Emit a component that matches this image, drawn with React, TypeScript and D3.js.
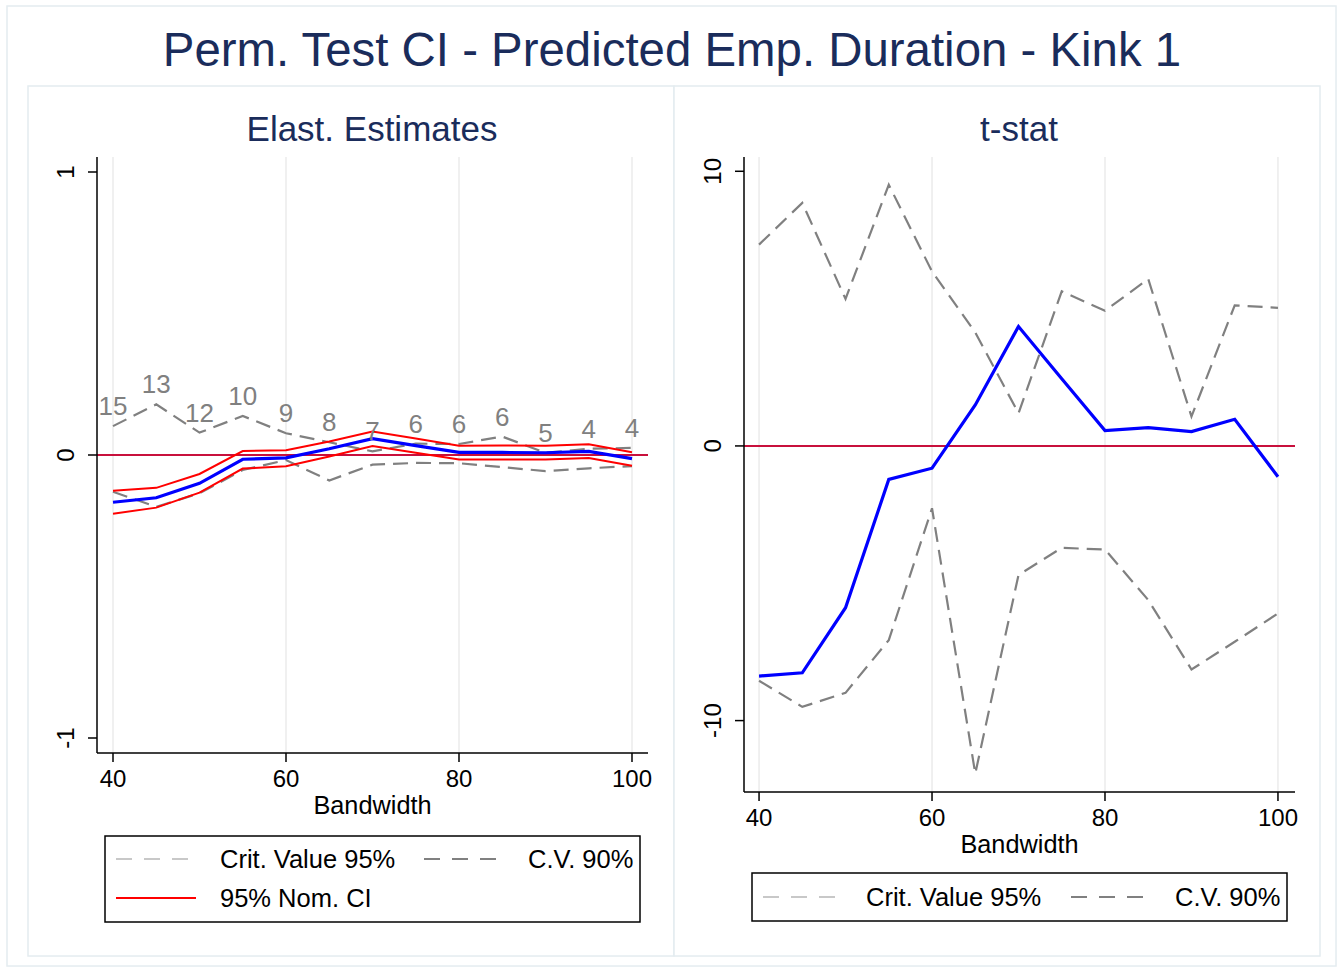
import React from "react";
import * as d3 from "d3";

const bandwidth = [40, 45, 50, 55, 60, 65, 70, 75, 80, 85, 90, 95, 100];
const obsLabels = ["15", "13", "12", "10", "9", "8", "7", "6", "6", "6", "5", "4", "4"];

const elastEst = [-0.167, -0.151, -0.1, -0.015, -0.01, 0.022, 0.058, 0.033, 0.009, 0.009, 0.008, 0.013, -0.013];
const ciUpper = [-0.126, -0.116, -0.067, 0.014, 0.017, 0.048, 0.083, 0.058, 0.033, 0.034, 0.033, 0.038, 0.01];
const ciLower = [-0.208, -0.186, -0.133, -0.048, -0.04, -0.005, 0.032, 0.008, -0.016, -0.016, -0.016, -0.011, -0.038];
const cv90UpperElast = [0.102, 0.179, 0.079, 0.138, 0.077, 0.045, 0.013, 0.04, 0.039, 0.065, 0.008, 0.022, 0.025];
const cv90LowerElast = [-0.13, -0.183, -0.135, -0.053, -0.018, -0.09, -0.034, -0.028, -0.029, -0.043, -0.057, -0.047, -0.039];

const tstat = [-8.38, -8.26, -5.89, -1.22, -0.81, 1.49, 4.35, 2.45, 0.56, 0.67, 0.52, 0.97, -1.12];
const cv90UpperT = [7.33, 8.85, 5.35, 9.51, 6.35, 4.13, 1.19, 5.63, 4.92, 6.08, 1.07, 5.12, 5.03];
const cv90LowerT = [-8.55, -9.5, -8.99, -7.07, -2.27, -11.93, -4.7, -3.71, -3.77, -5.61, -8.14, -7.13, -6.1];

const xTicks = [40, 60, 80, 100];
const yTicksElast = [-1, 0, 1];
const yTicksT = [-10, 0, 10];

const FONT = "'Liberation Sans', Arial, Helvetica, sans-serif";
const NAVY = "#1a2c5b";
const GRAY = "#808080";
const LIGHTGRAY = "#c8c8c8";
const ZERO = "#c8103c";
const GRID = "#ebebeb";
const FRAME = "#e4ecf0";

type PanelProps = {
  x0: number; x1: number; y0: number; y1: number;
  xDomain: [number, number]; yDomain: [number, number];
  yTicks: number[]; yFmt: (v: number) => string;
  children: (xs: d3.ScaleLinear<number, number>, ys: d3.ScaleLinear<number, number>) => React.ReactNode;
  xTitleY: number;
};

function Panel({ x0, x1, y0, y1, xDomain, yDomain, yTicks, yFmt, children, xTitleY }: PanelProps) {
  const xs = d3.scaleLinear().domain(xDomain).range([x0, x1]);
  const ys = d3.scaleLinear().domain(yDomain).range([y1, y0]);
  return (
    <g>
      {xTicks.map((t) => (
        <line key={"g" + t} x1={xs(t)} x2={xs(t)} y1={y0} y2={y1} stroke={GRID} strokeWidth={1.5} />
      ))}
      <line x1={x0} x2={x1} y1={ys(0)} y2={ys(0)} stroke={ZERO} strokeWidth={2} />
      {children(xs, ys)}
      <line x1={x0} x2={x0} y1={y0} y2={y1} stroke="#000" strokeWidth={1.5} />
      <line x1={x0} x2={x1} y1={y1} y2={y1} stroke="#000" strokeWidth={1.5} />
      {yTicks.map((t) => (
        <g key={"y" + t}>
          <line x1={x0 - 9} x2={x0} y1={ys(t)} y2={ys(t)} stroke="#000" strokeWidth={1.5} />
          <text
            transform={`translate(${x0 - 23},${ys(t)}) rotate(-90)`}
            textAnchor="middle"
            fontSize={24}
            fontFamily={FONT}
            fill="#000"
          >
            {yFmt(t)}
          </text>
        </g>
      ))}
      {xTicks.map((t) => (
        <g key={"x" + t}>
          <line x1={xs(t)} x2={xs(t)} y1={y1} y2={y1 + 9} stroke="#000" strokeWidth={1.5} />
          <text x={xs(t)} y={y1 + 34} textAnchor="middle" fontSize={24} fontFamily={FONT} fill="#000">
            {t}
          </text>
        </g>
      ))}
      <text x={(x0 + x1) / 2} y={xTitleY} textAnchor="middle" fontSize={25.3} fontFamily={FONT} fill="#000">
        Bandwidth
      </text>
    </g>
  );
}

function Legend({ x, y, w, h, rows }: { x: number; y: number; w: number; h: number; rows: { label: string; color: string; dash?: string; lx: number; tx: number; ly: number }[] }) {
  return (
    <g>
      <rect x={x} y={y} width={w} height={h} fill="#fff" stroke="#000" strokeWidth={1.5} />
      {rows.map((r, i) => (
        <g key={i}>
          <line x1={r.lx} x2={r.lx + 80} y1={r.ly} y2={r.ly} stroke={r.color} strokeWidth={2} strokeDasharray={r.dash} />
          <text x={r.tx} y={r.ly + 9} fontSize={25.5} fontFamily={FONT} fill="#000">
            {r.label}
          </text>
        </g>
      ))}
    </g>
  );
}

export default function App() {
  const idx = d3.range(bandwidth.length);
  const mkLine = (xs: any, ys: any, vals: number[]) =>
    d3.line<number>().x((i) => xs(bandwidth[i])).y((i) => ys(vals[i]))(idx) || "";

  return (
    <svg
      width={1343}
      height={973}
      style={{ position: "absolute", left: 0, top: 0, background: "#fff" }}
    >
      <rect x={0} y={0} width={1343} height={973} fill="#fff" />
      <rect x={7} y={6} width={1329} height={960} fill="#fff" stroke={FRAME} strokeWidth={1.5} />
      <text x={672} y={66} textAnchor="middle" fontSize={47.4} fontFamily={FONT} fill={NAVY}>
        Perm. Test CI - Predicted Emp. Duration - Kink 1
      </text>

      <rect x={28} y={86} width={646} height={870} fill="#fff" stroke={FRAME} strokeWidth={1.5} />
      <rect x={674} y={86} width={646} height={870} fill="#fff" stroke={FRAME} strokeWidth={1.5} />

      <text x={372} y={141} textAnchor="middle" fontSize={35} fontFamily={FONT} fill={NAVY}>
        Elast. Estimates
      </text>
      <text x={1019} y={141} textAnchor="middle" fontSize={35} fontFamily={FONT} fill={NAVY}>
        t-stat
      </text>

      <Panel
        x0={97} x1={648} y0={157} y1={753}
        xDomain={[38.15, 101.85]} yDomain={[-1.053, 1.053]}
        yTicks={yTicksElast} yFmt={(v) => String(v)} xTitleY={814}
      >
        {(xs, ys) => (
          <g fill="none">
            <path d={mkLine(xs, ys, cv90UpperElast)} stroke={GRAY} strokeWidth={2.2} strokeDasharray="15,8" />
            <path d={mkLine(xs, ys, cv90LowerElast)} stroke={GRAY} strokeWidth={2.2} strokeDasharray="15,8" />
            <path d={mkLine(xs, ys, ciUpper)} stroke="#ff0000" strokeWidth={2} />
            <path d={mkLine(xs, ys, ciLower)} stroke="#ff0000" strokeWidth={2} />
            <path d={mkLine(xs, ys, elastEst)} stroke="#0000ff" strokeWidth={3.2} />
            {idx.map((i) => (
              <text
                key={i}
                x={xs(bandwidth[i])}
                y={ys(cv90UpperElast[i]) - 11}
                textAnchor="middle"
                fontSize={26}
                fontFamily={FONT}
                fill={GRAY}
              >
                {obsLabels[i]}
              </text>
            ))}
          </g>
        )}
      </Panel>

      <Panel
        x0={744} x1={1295} y0={157} y1={792}
        xDomain={[38.26, 101.97]} yDomain={[-12.6, 10.52]}
        yTicks={yTicksT} yFmt={(v) => String(v)} xTitleY={853}
      >
        {(xs, ys) => (
          <g fill="none">
            <path d={mkLine(xs, ys, cv90UpperT)} stroke={GRAY} strokeWidth={2.2} strokeDasharray="15,8" />
            <path d={mkLine(xs, ys, cv90LowerT)} stroke={GRAY} strokeWidth={2.2} strokeDasharray="15,8" />
            <path d={mkLine(xs, ys, tstat)} stroke="#0000ff" strokeWidth={3.2} />
          </g>
        )}
      </Panel>

      <Legend
        x={105} y={836} w={535} h={86}
        rows={[
          { label: "Crit. Value 95%", color: LIGHTGRAY, dash: "16,12", lx: 116, tx: 220, ly: 859 },
          { label: "C.V. 90%", color: GRAY, dash: "16,12", lx: 424, tx: 528, ly: 859 },
          { label: "95% Nom. CI", color: "#ff0000", lx: 116, tx: 220, ly: 898 },
        ]}
      />
      <Legend
        x={752} y={873} w={535} h={48}
        rows={[
          { label: "Crit. Value 95%", color: LIGHTGRAY, dash: "16,12", lx: 763, tx: 866, ly: 897 },
          { label: "C.V. 90%", color: GRAY, dash: "16,12", lx: 1071, tx: 1175, ly: 897 },
        ]}
      />
    </svg>
  );
}
